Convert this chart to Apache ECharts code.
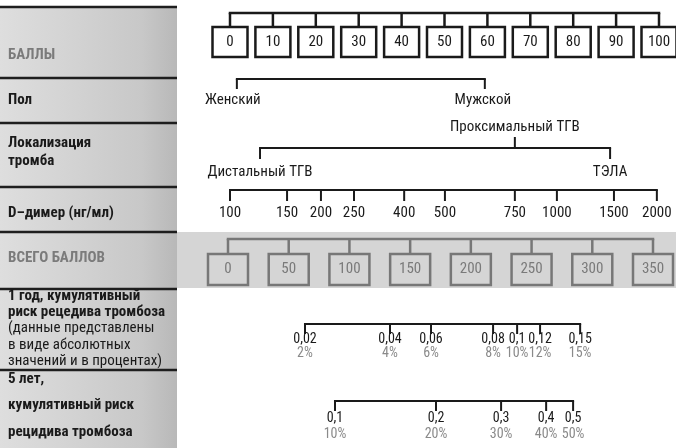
<!DOCTYPE html>
<html><head><meta charset="utf-8">
<script src="https://cdn.jsdelivr.net/npm/echarts@6/dist/echarts.min.js"></script>
<style>html,body{margin:0;padding:0;background:#fff}#c{width:676px;height:448px}</style>
</head><body><div id="c"></div>
<script>
// ---- data ----
const pointTicks = [0,10,20,30,40,50,60,70,80,90,100];
const sexLabels = ['Женский','Мужской'];
const sexPoints = [1.6, 59.4];
const locLabels = ['Дистальный ТГВ','Проксимальный ТГВ','ТЭЛА'];
const locPoints = [7.0, 66.4, 88.6];
const dimerLabels = ['100','150','200','250','400','500','750','1000','1500','2000'];
const dimerPoints = [0,13.3,21.2,28.9,40.6,50.1,66.4,76.2,89.5,99.5];
const totalTicks = [0,50,100,150,200,250,300,350];
const risk1Labels = ['0,02','0,04','0,06','0,08','0,1','0,12','0,15'];
const risk1Pct = ['2%','4%','6%','8%','10%','12%','15%'];
const risk1Total = [63.4,133.4,167.2,218.3,238.1,257,290];
const risk5Labels = ['0,1','0,2','0,3','0,4','0,5'];
const risk5Pct = ['10%','20%','30%','40%','50%'];
const risk5Total = [88.1,171.3,224.9,262,284.2];

const FONT = "'Liberation Sans Narrow','Roboto Condensed','DejaVu Sans Condensed','Liberation Sans',sans-serif";
const chart = echarts.init(document.getElementById('c'), null, {renderer:'canvas'});

function scaleSeries(gridIdx, values, cfg){
  return {
    type:'custom', xAxisIndex:gridIdx, yAxisIndex:gridIdx, clip:false, silent:true,
    data: values.map((v,i)=>[v,i]),
    renderItem:function(params, api){
      const i = params.dataIndex;
      const v = api.value(0);
      const p = api.coord([v, cfg.lineY]);
      const x = p[0];
      const ch = [];
      const dir = cfg.dirs ? cfg.dirs[i] : 1;
      const t2 = api.coord([v, cfg.lineY + dir*cfg.tick])[1];
      ch.push({type:'line', shape:{x1:x,y1:p[1],x2:x,y2:t2}, style:{stroke:cfg.color,lineWidth:cfg.lw}});
      if(i===0){
        const a = api.coord([values[0], cfg.lineY]);
        const b = api.coord([values[values.length-1], cfg.lineY]);
        ch.push({type:'line', shape:{x1:a[0]-cfg.lw/2,y1:a[1],x2:b[0]+cfg.lw/2,y2:b[1]}, style:{stroke:cfg.color,lineWidth:cfg.lw}});
      }
      if(cfg.box){
        const y0 = api.coord([v, cfg.box.y0])[1];
        const y1 = api.coord([v, cfg.box.y1])[1];
        ch.push({type:'rect', shape:{x:x-cfg.box.w/2,y:y0,width:cfg.box.w,height:y1-y0},
          style:{fill:cfg.box.fill,stroke:cfg.color,lineWidth:cfg.lw}});
      }
      cfg.texts.forEach(function(t){
        const yy = Array.isArray(t.y) ? t.y[i] : t.y;
        const ty = api.coord([v, yy])[1];
        ch.push({type:'text', style:{text:t.labels[i], x:x+(t.dx?t.dx[i]||0:0), y:ty, align:'center', verticalAlign:'middle',
          fontSize:t.size, fontFamily:FONT, fill:t.color}});
      });
      return {type:'group', children:ch};
    }
  };
}

const panelLabels = [
  {t:'БАЛЛЫ', y:55, c:'#7b7b7b', w:'bold'},
  {t:'Пол', y:100, c:'#1a1a1a', w:'bold'},
  {t:'Локализация', y:143, c:'#1a1a1a', w:'bold'},
  {t:'тромба', y:161, c:'#1a1a1a', w:'bold'},
  {t:'D–димер (нг/мл)', y:213, c:'#1a1a1a', w:'bold'},
  {t:'ВСЕГО БАЛЛОВ', y:258, c:'#7b7b7b', w:'bold'},
  {t:'1 год, кумулятивный', y:296, c:'#1a1a1a', w:'bold'},
  {t:'риск рецедива тромбоза', y:312, c:'#1a1a1a', w:'bold'},
  {t:'(данные представлены', y:328.5, c:'#1a1a1a', w:'normal'},
  {t:'в виде абсолютных', y:345, c:'#1a1a1a', w:'normal'},
  {t:'значений и в процентах)', y:361, c:'#1a1a1a', w:'normal'},
  {t:'5 лет,', y:379, c:'#1a1a1a', w:'bold'},
  {t:'кумулятивный риск', y:405, c:'#1a1a1a', w:'bold'},
  {t:'рецидива тромбоза', y:432, c:'#1a1a1a', w:'bold'}
];
const seps = [7,78,123,187,232,289,370];

const graphic = [];
graphic.push({type:'rect', z:-10, shape:{x:177,y:232,width:499,height:56}, style:{fill:'#d5d5d5'}});
graphic.push({type:'rect', z:-9, shape:{x:0,y:7,width:177,height:441},
  style:{fill:new echarts.graphic.LinearGradient(0,0,1,0,[{offset:0,color:'#dedede'},{offset:0.8,color:'#c8c8c8'},{offset:1,color:'#b8b8b8'}])}});
seps.forEach(function(y){ graphic.push({type:'line', z:-8, shape:{x1:0,y1:y,x2:177,y2:y}, style:{stroke:'#1e1e1e',lineWidth:2.5}}); });
panelLabels.forEach(function(l){
  graphic.push({type:'text', z:5, style:{text:l.t, x:8, y:l.y, verticalAlign:'middle', fontSize:15, fontWeight:l.w, fontFamily:FONT, fill:l.c}});
});

const ax = (gi,max)=>({gridIndex:gi, type:'value', min:0, max:max, show:false});
const ay = (gi)=>({gridIndex:gi, type:'value', min:0, max:448, inverse:true, show:false});

const option = {
  animation:false,
  graphic: graphic,
  grid:[{left:230,right:17,top:0,bottom:0},{left:228,right:23,top:0,bottom:0}],
  xAxis:[ax(0,100), ax(1,350)],
  yAxis:[ay(0), ay(1)],
  series:[
    scaleSeries(0, pointTicks, {lineY:13, tick:14, color:'#1a1a1a', lw:2.5,
      box:{y0:27,y1:57,w:35,fill:'#fff'},
      texts:[{labels:pointTicks.map(String), y:42, size:15, color:'#1a1a1a'}]}),
    scaleSeries(0, sexPoints, {lineY:79, tick:10, color:'#1a1a1a', lw:2,
      texts:[{labels:sexLabels, y:100, size:15, color:'#1a1a1a', dx:[-4,-2]}]}),
    scaleSeries(0, locPoints, {lineY:148, tick:11, dirs:[1,-1,1], color:'#1a1a1a', lw:2,
      texts:[{labels:locLabels, y:[172,127,172], size:15, color:'#1a1a1a'}]}),
    scaleSeries(0, dimerPoints, {lineY:190, tick:11, color:'#1a1a1a', lw:2,
      texts:[{labels:dimerLabels, y:213, size:15, color:'#1a1a1a'}]}),
    scaleSeries(1, totalTicks, {lineY:239, tick:15, color:'#777', lw:2.5,
      box:{y0:254,y1:285,w:40,fill:'#d5d5d5'},
      texts:[{labels:totalTicks.map(String), y:269.5, size:15, color:'#7a7a7a'}]}),
    scaleSeries(1, risk1Total, {lineY:324, tick:10, color:'#1a1a1a', lw:2,
      texts:[{labels:risk1Labels, y:339, size:14, color:'#1a1a1a'},{labels:risk1Pct, y:353, size:14, color:'#8a8a8a'}]}),
    scaleSeries(1, risk5Total, {lineY:401, tick:10, color:'#1a1a1a', lw:2,
      texts:[{labels:risk5Labels, y:418, size:14, color:'#1a1a1a'},{labels:risk5Pct, y:434, size:14, color:'#8a8a8a'}]})
  ]
};
chart.setOption(option);
</script></body></html>
